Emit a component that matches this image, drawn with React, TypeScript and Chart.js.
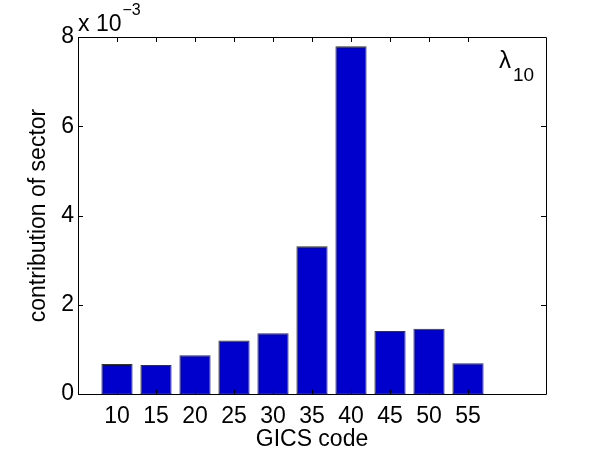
import React, { useEffect, useRef } from "react";
import { Chart, registerables } from "chart.js";

Chart.register(...registerables);

// GICS sector codes
const codes = [10, 15, 20, 25, 30, 35, 40, 45, 50, 55];
// contribution of sector (in units of 10^-3)
const contribution = [0.67, 0.65, 0.87, 1.2, 1.36, 3.31, 7.79, 1.41, 1.46, 0.69];
const yTicks = [0, 2, 4, 6, 8];
const xRange = [5, 65];

const FONT = "'Liberation Sans', Arial, Helvetica, sans-serif";

const decorPlugin = {
  id: "decor",
  afterDraw(chart: any) {
    const { ctx, chartArea } = chart;
    const { left, right, top, bottom } = chartArea;
    const xs = chart.scales.x;
    const ys = chart.scales.y;
    const tl = 5;
    ctx.save();
    ctx.strokeStyle = "#000";
    ctx.lineWidth = 1;
    ctx.beginPath();
    ctx.rect(Math.round(left) + 0.5, Math.round(top) + 0.5, Math.round(right - left), Math.round(bottom - top));
    ctx.stroke();
    ctx.beginPath();
    codes.forEach((c) => {
      const px = Math.round(xs.getPixelForValue(c)) + 0.5;
      ctx.moveTo(px, bottom);
      ctx.lineTo(px, bottom - tl);
      ctx.moveTo(px, top);
      ctx.lineTo(px, top + tl);
    });
    yTicks.forEach((v) => {
      const py = Math.round(ys.getPixelForValue(v)) + 0.5;
      ctx.moveTo(left, py);
      ctx.lineTo(left + tl, py);
      ctx.moveTo(right, py);
      ctx.lineTo(right - tl, py);
    });
    ctx.stroke();

    // exponent label
    ctx.fillStyle = "#000";
    ctx.textBaseline = "alphabetic";
    ctx.textAlign = "left";
    ctx.font = `23px ${FONT}`;
    ctx.fillText("x 10", left, top - 6);
    const w = ctx.measureText("x 10").width;
    ctx.font = `16px ${FONT}`;
    ctx.fillText("\u22123", left + w + 1, top - 22);

    // lambda label
    ctx.font = `24px ${FONT}`;
    ctx.fillText("\u03bb", 499, 68);
    ctx.font = `19px ${FONT}`;
    ctx.fillText("10", 513, 81);
    ctx.restore();
  },
};

export default function App() {
  const ref = useRef<HTMLCanvasElement | null>(null);
  useEffect(() => {
    if (!ref.current) return;
    const chart = new Chart(ref.current, {
      type: "bar",
      data: {
        datasets: [
          {
            data: codes.map((c, i) => ({ x: c, y: contribution[i] })),
            backgroundColor: "#0000cd",
            borderColor: "#333333",
            borderWidth: 1,
            borderSkipped: false,
            barPercentage: 0.8,
            categoryPercentage: 1,
          },
        ],
      },
      options: {
        responsive: false,
        animation: false,
        events: [],
        layout: { padding: { left: 0, top: 37, right: 56, bottom: 0 } },
        plugins: {
          legend: { display: false },
          tooltip: { enabled: false },
        },
        scales: {
          x: {
            type: "linear",
            min: xRange[0],
            max: xRange[1],
            offset: false,
            grid: { display: false, drawTicks: false, offset: false },
            border: { display: false },
            ticks: {
              stepSize: 5,
              autoSkip: false,
              maxRotation: 0,
              padding: 9,
              color: "#000",
              font: { family: FONT, size: 23 },
              callback: (v: any) => (codes.includes(Number(v)) ? String(v) : ""),
            },
            title: {
              display: true,
              text: "GICS code",
              color: "#000",
              font: { family: FONT, size: 23 },
              padding: { top: -4, bottom: 0 },
            },
            afterFit: (s: any) => {
              s.height = 59;
            },
          },
          y: {
            min: 0,
            max: 8,
            grid: { display: false, drawTicks: false },
            border: { display: false },
            ticks: {
              stepSize: 2,
              padding: 4,
              color: "#000",
              font: { family: FONT, size: 23 },
            },
            title: {
              display: true,
              text: "contribution of sector",
              color: "#000",
              font: { family: FONT, size: 23 },
              padding: { top: 25, bottom: 0 },
            },
            afterFit: (s: any) => {
              s.width = 78;
            },
          },
        },
      },
      plugins: [decorPlugin],
    });
    return () => chart.destroy();
  }, []);
  return (
    <div style={{ position: "fixed", left: 0, top: 0, width: 602, height: 453, background: "#fff" }}>
      <canvas ref={ref} width={602} height={453} style={{ width: 602, height: 453 }} />
    </div>
  );
}
